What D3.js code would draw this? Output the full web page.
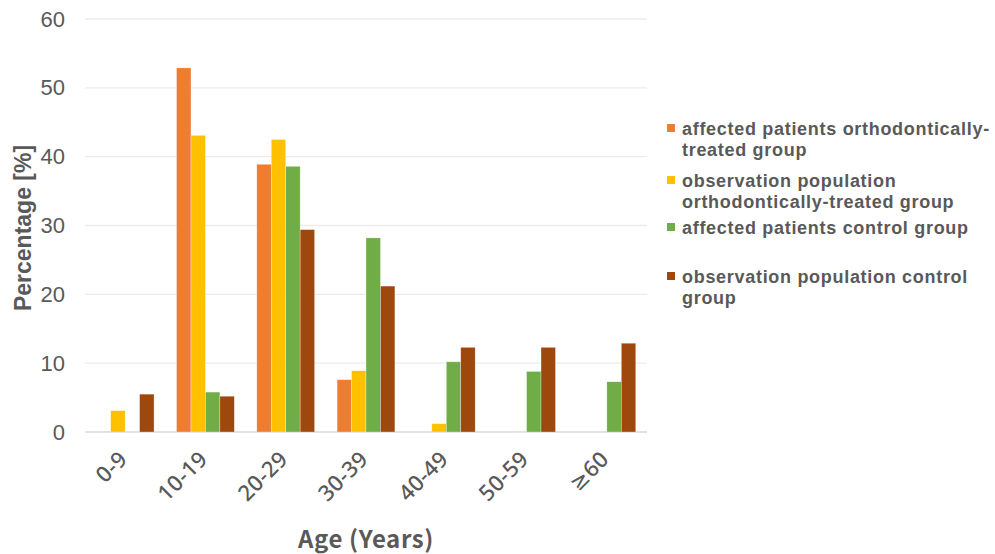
<!DOCTYPE html>
<html>
<head>
<meta charset="utf-8">
<script src="https://cdn.jsdelivr.net/npm/d3@7"></script>
<style>
  html, body { margin: 0; padding: 0; background: #fff; }
  svg { display: block; }
</style>
</head>
<body>
<svg id="chart" width="995" height="554"></svg>
<script>
// Age groups and the four series (percent)
const ageGroups = ["0-9", "10-19", "20-29", "30-39", "40-49", "50-59", "\u226560"];
const seriesNames = [
  ["affected patients orthodontically-", "treated group"],
  ["observation population", "orthodontically-treated group"],
  ["affected patients control group"],
  ["observation population control", "group"]
];
const affectedOrtho   = [0,   52.9, 38.9, 7.6,  0,   0,   0];
const observedOrtho   = [3.1, 43.1, 42.5, 8.9,  1.2, 0.1, 0];
const affectedControl = [0,   5.8,  38.6, 28.2, 10.2, 8.8, 7.3];
const observedControl = [5.5, 5.2,  29.4, 21.2, 12.3, 12.3, 12.9];
const seriesValues = [affectedOrtho, observedOrtho, affectedControl, observedControl];
const seriesColors = ["#ED7D31", "#FFC000", "#70AD47", "#9E480E"];
const yTicks = [0, 10, 20, 30, 40, 50, 60];

const svg = d3.select("#chart");
const plot = { left: 85, right: 647, top: 19, bottom: 432 };
const sans = "'Noto Sans CJK SC', 'Noto Sans', sans-serif";
const arial = "'Liberation Sans', Arial, sans-serif";
const textGrey = "#595959";

const x0 = d3.scaleBand().domain(ageGroups)
  .range([plot.left, plot.right]).paddingInner(0.28).paddingOuter(0.14);
const x1 = d3.scaleBand().domain(d3.range(seriesValues.length))
  .range([0, x0.bandwidth()]);
const y = d3.scaleLinear().domain([0, 60]).range([plot.bottom, plot.top]);

// Horizontal gridlines
svg.append("g").selectAll("line").data(yTicks).join("line")
  .attr("x1", plot.left).attr("x2", plot.right)
  .attr("y1", d => y(d)).attr("y2", d => y(d))
  .attr("stroke", d => d === 0 ? "#d9d9d9" : "#ececec")
  .attr("stroke-width", 1.3);

// Y axis labels
const yAxis = d3.axisLeft(y).tickValues(yTicks).tickSize(0).tickPadding(20);
const yg = svg.append("g").attr("transform", `translate(${plot.left},0)`).call(yAxis);
yg.select(".domain").remove();
yg.selectAll("text")
  .attr("font-family", arial)
  .attr("font-size", 22).attr("fill", textGrey);

// Bars
const groups = svg.append("g").selectAll("g").data(ageGroups).join("g")
  .attr("transform", d => `translate(${x0(d)},0)`);
groups.selectAll("rect")
  .data((g, gi) => seriesValues.map((vals, si) => ({ si, v: vals[gi] })))
  .join("rect")
  .attr("x", d => x1(d.si))
  .attr("width", x1.bandwidth())
  .attr("y", d => y(d.v))
  .attr("height", d => y(0) - y(d.v))
  .attr("fill", d => seriesColors[d.si])
  .attr("stroke", "#fff").attr("stroke-opacity", 0.5).attr("stroke-width", 0.6);

// X axis labels, rotated
const xAxis = d3.axisBottom(x0).tickSize(0).tickPadding(0);
const xg = svg.append("g").attr("transform", `translate(0,${plot.bottom})`).call(xAxis);
xg.select(".domain").remove();
xg.selectAll("text")
  .attr("font-family", "'Noto Sans', 'DejaVu Sans', 'Liberation Sans', sans-serif")
  .attr("font-size", 22).attr("font-weight", 500).attr("fill", textGrey)
  .attr("letter-spacing", 0.4)
  .attr("text-anchor", "end")
  .attr("y", 0)
  .attr("dy", "0.35em")
  .attr("transform", "translate(-2,23) rotate(-45)");

// Axis titles
svg.append("text")
  .attr("x", (plot.left + plot.right) / 2).attr("y", 548)
  .attr("text-anchor", "middle")
  .attr("font-family", sans)
  .attr("font-size", 24).attr("font-weight", 700).attr("fill", textGrey)
  .attr("letter-spacing", 0.6)
  .text("Age (Years)");
svg.append("text")
  .attr("transform", "translate(31,228) rotate(-90)")
  .attr("text-anchor", "middle")
  .attr("font-family", arial)
  .attr("font-size", 23).attr("font-weight", 700).attr("fill", textGrey)
  .text("Percentage [%]");

// Legend
const legendTop = [128, 180, 227, 276];
const legend = svg.append("g").selectAll("g").data(seriesNames).join("g")
  .attr("transform", (d, i) => `translate(667,${legendTop[i]})`);
legend.append("rect")
  .attr("x", 0).attr("y", -4).attr("width", 8).attr("height", 8)
  .attr("fill", (d, i) => seriesColors[i]);
legend.append("text")
  .attr("font-family", arial)
  .attr("font-size", 18).attr("font-weight", 700).attr("fill", textGrey)
  .attr("letter-spacing", 0.7)
  .selectAll("tspan").data(d => d).join("tspan")
  .attr("x", 15).attr("y", (d, j) => 6.5 + j * 21)
  .text(d => d);
</script>
</body>
</html>
